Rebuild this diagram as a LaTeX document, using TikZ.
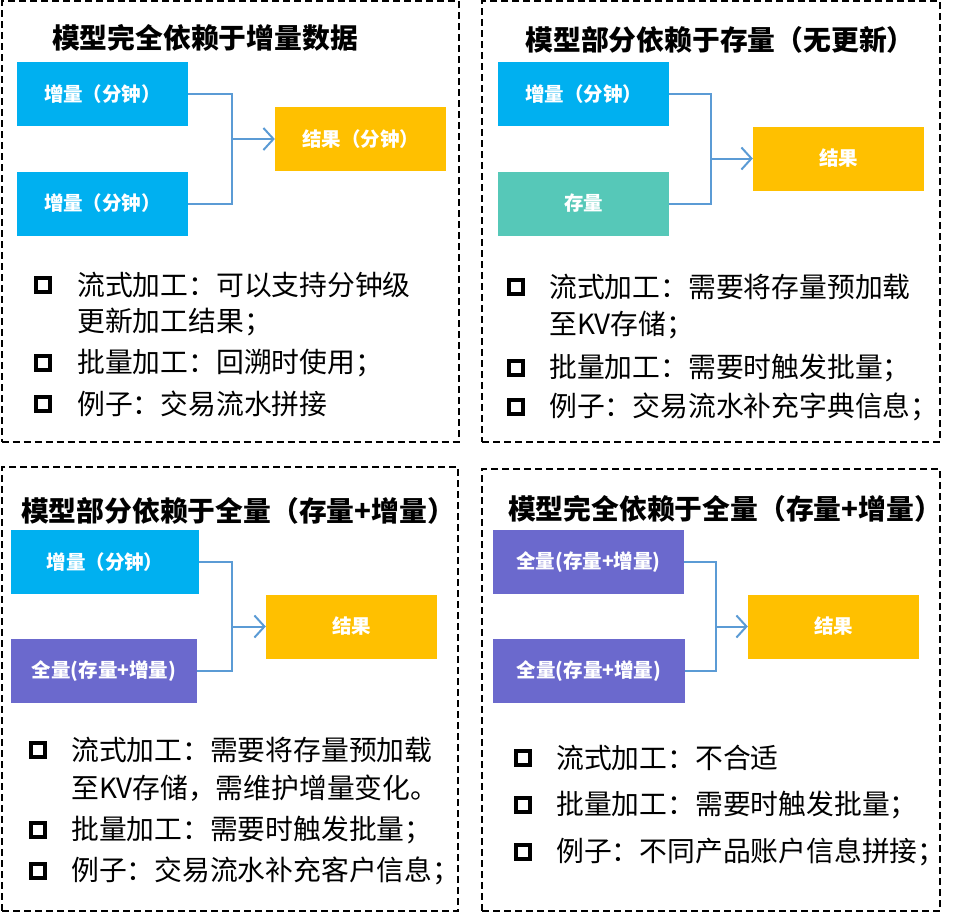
\documentclass[tikz,border=0pt]{standalone}
\usepackage{fontspec}
\setmainfont{Noto Sans CJK SC}
\usetikzlibrary{arrows.meta}
\definecolor{cblue}{HTML}{00B0F0}
\definecolor{cyellow}{HTML}{FFC000}
\definecolor{cteal}{HTML}{56C8B8}
\definecolor{cpurple}{HTML}{6B69CD}
\definecolor{cline}{HTML}{5B9BD5}
\tikzset{
  frame/.style={draw=black, line width=2pt, dash pattern=on 7pt off 4pt},
  title/.style={font=\fontsize{27.8}{32}\selectfont\bfseries, inner sep=0pt},
  box/.style={minimum width=171pt, minimum height=64pt, inner sep=0pt, text=white, font=\fontsize{19.5}{23}\selectfont\bfseries},
  conn/.style={draw=cline, line width=2pt},
  arr/.style={-{Straight Barb[length=10pt,width=22pt,line width=2pt]}},
  bul/.style={draw=black, line width=3.5pt, minimum size=14pt, inner sep=0pt},
  txt/.style={anchor=west, inner sep=0pt, font=\fontsize{27.8}{32}\selectfont}
}
\begin{document}
\begin{tikzpicture}[x=1pt,y=-1pt]
\useasboundingbox (0,0) rectangle (962,913);
% frames
\node[frame, minimum width=457pt, minimum height=441pt, inner sep=0pt] (f1) at (230,221.5) {};
\node[frame, minimum width=458pt, minimum height=441pt, inner sep=0pt] (f2) at (711,221.5) {};
\node[frame, minimum width=456pt, minimum height=444pt, inner sep=0pt] (f3) at (230,689) {};
\node[frame, minimum width=458pt, minimum height=442pt, inner sep=0pt] (f4) at (711,690) {};

% panel 1
\node[title] (t1) at (205,38) {模型完全依赖于增量数据};
\node[box, fill=cblue] (a1) at (102.5,94) {增量（分钟）};
\node[box, fill=cblue] (b1) at (102.5,203.5) {增量（分钟）};
\node[box, fill=cyellow] (r1) at (360.5,139) {结果（分钟）};
\coordinate (j1) at (232,139);
\draw[conn] (a1.east) -| (j1) |- (b1.east);
\draw[conn, arr] (j1) -- (r1.west);
\node[bul] (p1a) at (43,285) {};
\node[txt] (p1l1) at (77,285) {流式加工：可以支持分钟级};
\node[txt] (p1l2) at (77,322) {更新加工结果；};
\node[bul] (p1b) at (43,363) {};
\node[txt] (p1l3) at (77,363) {批量加工：回溯时使用；};
\node[bul] (p1c) at (43,404) {};
\node[txt] (p1l4) at (77,404) {例子：交易流水拼接};

% panel 2
\node[title] (t2) at (720,40) {模型部分依赖于存量（无更新）};
\node[box, fill=cblue] (a2) at (583.5,94) {增量（分钟）};
\node[box, fill=cteal] (b2) at (583.5,203.5) {存量};
\node[box, fill=cyellow] (r2) at (838.5,158.5) {结果};
\coordinate (j2) at (711,158.5);
\draw[conn] (a2.east) -| (j2) |- (b2.east);
\draw[conn, arr] (j2) -- (r2.west);
\node[bul] (p2a) at (516,287) {};
\node[txt] (p2l1) at (549,287) {流式加工：需要将存量预加载};
\node[txt] (p2l2) at (549,325) {至KV存储；};
\node[bul] (p2b) at (516,368) {};
\node[txt] (p2l3) at (549,368) {批量加工：需要时触发批量；};
\node[bul] (p2c) at (516,407) {};
\node[txt] (p2l4) at (549,407) {例子：交易流水补充字典信息；};

% panel 3
\node[title] (t3) at (238,511) {模型部分依赖于全量（存量+增量）};
\node[box, fill=cblue, minimum width=188pt] (a3) at (105,562) {增量（分钟）};
\node[box, fill=cpurple, minimum width=186pt] (b3) at (104,671) {全量(存量+增量)};
\node[box, fill=cyellow] (r3) at (351.5,626.5) {结果};
\coordinate (j3) at (232,626.5);
\draw[conn] (a3.east) -| (j3) |- (b3.east);
\draw[conn, arr] (j3) -- (r3.west);
\node[bul] (p3a) at (38,750) {};
\node[txt] (p3l1) at (71,750) {流式加工：需要将存量预加载};
\node[txt] (p3l2) at (71,788) {至KV存储，需维护增量变化。};
\node[bul] (p3b) at (38,830) {};
\node[txt] (p3l3) at (71,830) {批量加工：需要时触发批量；};
\node[bul] (p3c) at (38,871) {};
\node[txt] (p3l4) at (71,871) {例子：交易流水补充客户信息；};

% panel 4
\node[title] (t4) at (725,509) {模型完全依赖于全量（存量+增量）};
\node[box, fill=cpurple, minimum width=191pt] (a4) at (588.5,562) {全量(存量+增量)};
\node[box, fill=cpurple, minimum width=192pt] (b4) at (589,671) {全量(存量+增量)};
\node[box, fill=cyellow] (r4) at (833.5,626.5) {结果};
\coordinate (j4) at (716,626.5);
\draw[conn] (a4.east) -| (j4) |- (b4.east);
\draw[conn, arr] (j4) -- (r4.west);
\node[bul] (p4a) at (523,758) {};
\node[txt] (p4l1) at (556,758) {流式加工：不合适};
\node[bul] (p4b) at (523,805) {};
\node[txt] (p4l2) at (556,805) {批量加工：需要时触发批量；};
\node[bul] (p4c) at (523,852) {};
\node[txt] (p4l3) at (556,852) {例子：不同产品账户信息拼接；};
\end{tikzpicture}
\end{document}
